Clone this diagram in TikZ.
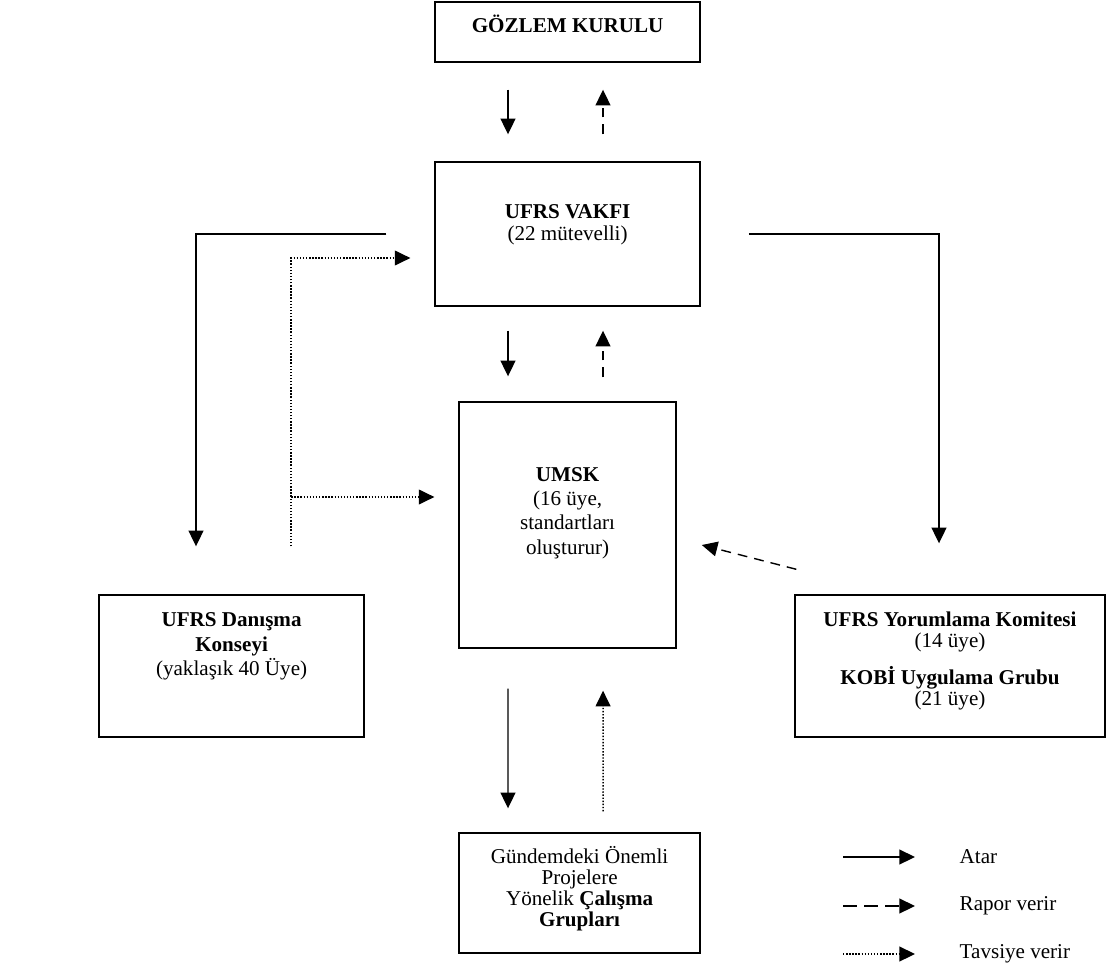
\documentclass[tikz,border=0pt]{standalone}
\usepackage{fontspec}
\setmainfont{Liberation Serif}
\usepackage{tikz}
\usetikzlibrary{arrows.meta}

\begin{document}
\begin{tikzpicture}[line width=1pt,
  kutu/.style={draw, inner sep=0pt},
  yazi/.style={align=center, inner sep=0pt, font=\fontsize{15}{#1}\selectfont},
  yazi/.default=16.5pt,
  atar/.style={-{Triangle[length=3.9mm,width=3.7mm]}},
  rapor/.style={atar, dash pattern=on 7pt off 5pt},
  tavsiye/.style={atar, line width=1pt, dash pattern=on 1pt off 1.2pt}]
\useasboundingbox (0,0) rectangle (27.675,-24.3);

\node[kutu, minimum width=6.625cm, minimum height=1.5cm] (gozlem) at (14.19,-0.8) {};
\node[yazi, anchor=base] (gozlemyazi) at (gozlem.center) {\textbf{GÖZLEM KURULU}};

\node[kutu, minimum width=6.625cm, minimum height=3.6cm] (vakif) at (14.19,-5.85) {};
\node[yazi=15.6pt] (vakifyazi) at ([yshift=0.24cm]vakif.center) {\textbf{UFRS VAKFI}\\(22 mütevelli)};

\node[kutu, minimum width=5.425cm, minimum height=6.15cm] (umsk) at (14.19,-13.125) {};
\node[yazi=17.3pt] (umskyazi) at ([yshift=0.3cm]umsk.center) {\textbf{UMSK}\\(16 üye,\\standartları\\oluşturur)};

\node[kutu, minimum width=6.625cm, minimum height=3.55cm] (danisma) at (5.79,-16.65) {};
\node[yazi=17.3pt] (danismayazi) at ([yshift=0.49cm]danisma.center) {\textbf{UFRS Danışma}\\\textbf{Konseyi}\\(yaklaşık 40 Üye)};

\node[kutu, minimum width=7.75cm, minimum height=3.55cm] (yorum) at (23.75,-16.65) {};
\node[yazi=14.5pt] (yorumyazi) at ([yshift=0.125cm]yorum.center) {\textbf{UFRS Yorumlama Komitesi}\\(14 üye)\\[9.6pt]\textbf{KOBİ Uygulama Grubu}\\(21 üye)};

\node[kutu, minimum width=6.025cm, minimum height=3cm] (gundem) at (14.49,-22.325) {};
\node[yazi=15pt] (gundemyazi) at ([yshift=0.1cm]gundem.center) {Gündemdeki Önemli\\Projelere\\Yönelik \textbf{Çalışma}\\\textbf{Grupları}};

\draw[atar, shorten <=0.675cm, shorten >=0.675cm] ([xshift=-1.49cm]gozlem.south) -- ([xshift=-1.49cm]vakif.north);
\draw[rapor, shorten <=0.675cm, shorten >=0.675cm] ([xshift=0.885cm]vakif.north) -- ([xshift=0.885cm]gozlem.south);

\draw[atar, shorten <=0.6cm, shorten >=0.625cm] ([xshift=-1.49cm]vakif.south) -- ([xshift=-1.49cm]umsk.north);
\draw[rapor, shorten <=0.6cm, shorten >=0.6cm] ([xshift=0.885cm]umsk.north) -- ([xshift=0.885cm]vakif.south);

\draw[atar, shorten <=1cm, shorten >=0.6cm] ([xshift=-1.49cm]umsk.south) -- ([xshift=-1.79cm]gundem.north);
\draw[tavsiye, shorten <=0.525cm, shorten >=1.05cm] ([xshift=0.59cm]gundem.north) -- ([xshift=0.885cm]umsk.south);

\draw[atar] ([xshift=-1.2cm]vakif.west) -| ([xshift=-0.89cm,yshift=1.2cm]danisma.north);
\draw[atar] ([xshift=1.2cm]vakif.east) -| ([xshift=-0.275cm,yshift=1.275cm]yorum.north);

\coordinate (dk) at ([xshift=1.49cm,yshift=1.2cm]danisma.north);
\coordinate (dal) at ([xshift=-0.6cm,yshift=0.7cm]umsk.west);
\draw[tavsiye] (dk) |- ([xshift=-0.6cm,yshift=-0.6cm]vakif.west);
\draw[tavsiye] (dk |- dal) -- (dal);

\draw[rapor] ([xshift=0.05cm,yshift=0.625cm]yorum.north west) -- ([xshift=0.625cm,yshift=-0.5cm]umsk.east);

\node[yazi, anchor=west] (lAtar) at (23.975,-21.425) {Atar};
\node[yazi, anchor=west] (lRapor) at (23.975,-22.65) {Rapor verir};
\node[yazi, anchor=west] (lTavsiye) at (23.975,-23.85) {Tavsiye verir};
\draw[atar] ([xshift=-2.9cm]lAtar.west) -- ([xshift=-1.1cm]lAtar.west);
\draw[atar, dash pattern=on 10pt off 5pt] ([xshift=-2.9cm]lRapor.west) -- ([xshift=-1.1cm]lRapor.west);
\draw[tavsiye] ([xshift=-2.9cm]lTavsiye.west) -- ([xshift=-1.1cm]lTavsiye.west);
\end{tikzpicture}
\end{document}
